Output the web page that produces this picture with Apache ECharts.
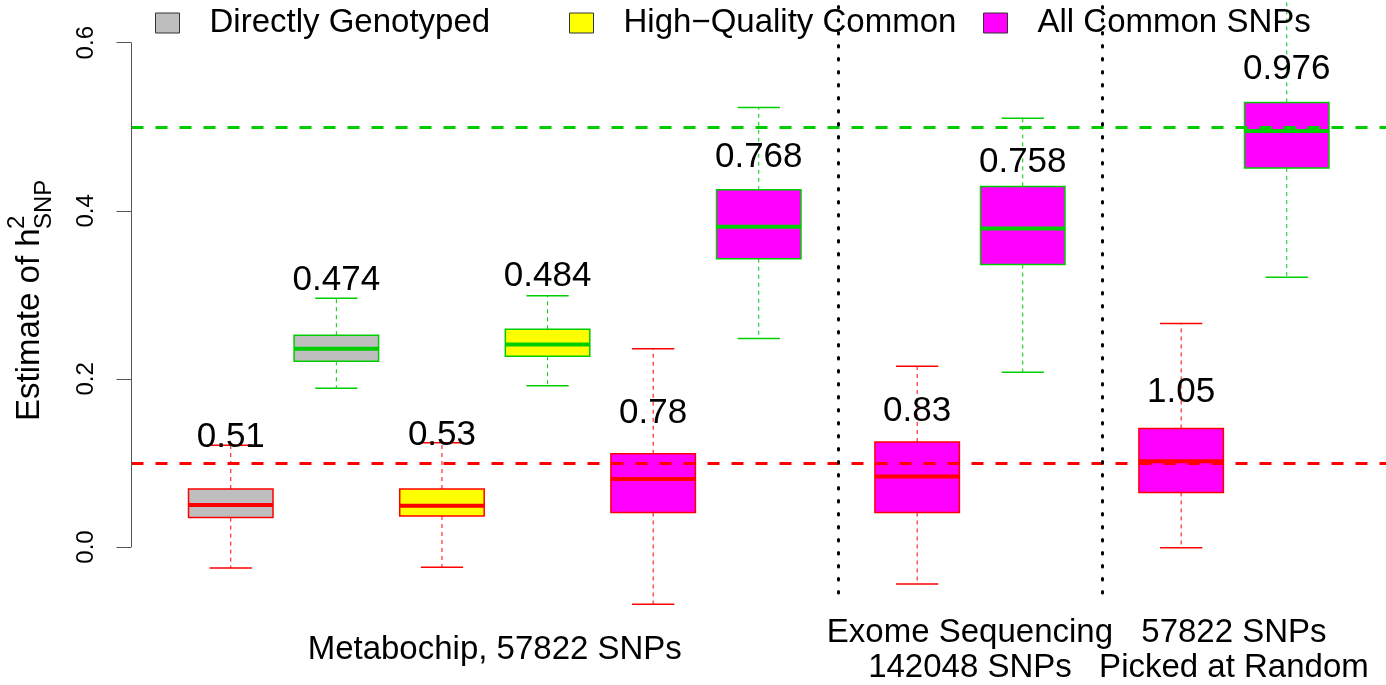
<!DOCTYPE html>
<html><head><meta charset="utf-8">
<script src="https://cdn.jsdelivr.net/npm/echarts@6/dist/echarts.min.js"></script>
<style>html,body{margin:0;padding:0;background:#fff}#c{width:1386px;height:685px}</style>
</head><body><div id="c"></div>
<script>
// ---------------- DATA ----------------
const groupNames = ['Directly Genotyped', 'High\u2212Quality Common', 'All Common SNPs'];
const boxPositions = [1, 2, 3, 4, 5, 6, 7.5, 8.5, 10, 11];
const boxGroup = [0, 0, 1, 1, 2, 2, 2, 2, 2, 2];
const whiskerLow = [-0.025, 0.189, -0.024, 0.192, -0.068, 0.248, -0.044, 0.208, -0.001, 0.321];
const q1 = [0.035, 0.221, 0.037, 0.227, 0.041, 0.343, 0.041, 0.336, 0.065, 0.451];
const median = [0.050, 0.236, 0.049, 0.241, 0.081, 0.381, 0.084, 0.379, 0.102, 0.495];
const q3 = [0.069, 0.252, 0.069, 0.259, 0.111, 0.425, 0.125, 0.429, 0.141, 0.529];
const whiskerHigh = [0.121, 0.296, 0.124, 0.299, 0.236, 0.523, 0.215, 0.510, 0.266, 0.660];
const boxLabels = ['0.51', '0.474', '0.53', '0.484', '0.78', '0.768', '0.83', '0.758', '1.05', '0.976'];
const boxLabelY = [0.131, 0.317, 0.133, 0.322, 0.159, 0.464, 0.162, 0.458, 0.184, 0.568];
const refGreenY = 0.5;
const refRedY = 0.1;
const dividerX = [6.75, 9.25];
const dividerYRange = [-0.0547, 0.6508];
const yTicks = [0, 0.2, 0.4, 0.6];
const sectionX = [3.5, 8, 10.5];
const sectionLabels = ['Metabochip, 57822 SNPs', 'Exome Sequencing\n142048 SNPs', '57822 SNPs\nPicked at Random'];

// ---------------- STYLE ----------------
const FONT = '"Liberation Sans", Arial, Helvetica, sans-serif';
const RED = '#FF0000', GREEN = '#00CD00';
const fillColors = ['#BEBEBE', '#FFFF00', '#FF00FF'];
const outlineColors = [RED, GREEN, RED, GREEN, RED, GREEN, RED, GREEN, RED, GREEN];
const legendLeft = [155, 569, 983];
const X_MIN = 0.06, X_MAX = 11.94;
const Y_MIN = -0.0547, Y_MAX = 0.6508;
const SECTION_OFFSET = 57;

function renderBox(params, api) {
  const x = api.value(0);
  const lo = api.coord([x, api.value(1)]);
  const b1 = api.coord([x, api.value(2)]);
  const md = api.coord([x, api.value(3)]);
  const b3 = api.coord([x, api.value(4)]);
  const hi = api.coord([x, api.value(5)]);
  const oc = outlineColors[api.value(6)];
  const hw = api.size([0.4, 0])[0];
  const cw = api.size([0.2, 0])[0];
  const cx = lo[0];
  const fill = api.visual('color');
  return {
    type: 'group',
    children: [
      {type: 'line', shape: {x1: cx, y1: b3[1], x2: cx, y2: hi[1]}, style: {stroke: oc, lineWidth: 1, lineDash: [4, 4]}},
      {type: 'line', shape: {x1: cx, y1: b1[1], x2: cx, y2: lo[1]}, style: {stroke: oc, lineWidth: 1, lineDash: [4, 4]}},
      {type: 'line', shape: {x1: cx - cw, y1: hi[1], x2: cx + cw, y2: hi[1]}, style: {stroke: oc, lineWidth: 1.5}},
      {type: 'line', shape: {x1: cx - cw, y1: lo[1], x2: cx + cw, y2: lo[1]}, style: {stroke: oc, lineWidth: 1.5}},
      {type: 'rect', shape: {x: cx - hw, y: b3[1], width: 2 * hw, height: b1[1] - b3[1]}, style: {fill: fill, stroke: oc, lineWidth: 1.5}},
      {type: 'line', shape: {x1: cx - hw, y1: md[1], x2: cx + hw, y2: md[1]}, style: {stroke: oc, lineWidth: 4}}
    ]
  };
}

function renderLabel(params, api) {
  const p = api.coord([api.value(0), api.value(1)]);
  return {
    type: 'text', x: p[0], y: p[1], z2: 10,
    style: {text: boxLabels[api.value(2)], fontSize: 35, fontFamily: FONT, fill: '#000', align: 'center', verticalAlign: 'middle'}
  };
}

function renderSection(params, api) {
  const p = api.coord([api.value(0), Y_MIN]);
  return {
    type: 'text', x: p[0], y: p[1] + SECTION_OFFSET,
    style: {text: sectionLabels[api.value(1)], fontSize: 33, lineHeight: 35, fontFamily: FONT, fill: '#000', align: 'center', verticalAlign: 'middle'}
  };
}

const boxSeries = groupNames.map((name, g) => ({
  type: 'custom', name: name, renderItem: renderBox, clip: false, silent: true, z: 2,
  itemStyle: {color: fillColors[g]},
  encode: {x: 0, y: [1, 2, 3, 4, 5]},
  data: boxPositions.map((p, i) => [p, whiskerLow[i], q1[i], median[i], q3[i], whiskerHigh[i], i]).filter((d, i) => boxGroup[i] === g)
}));

const option = {
  animation: false,
  backgroundColor: '#fff',
  grid: {left: 131.5, right: 0, top: 0, bottom: 92, containLabel: false},
  xAxis: {
    type: 'value', min: X_MIN, max: X_MAX,
    axisLine: {show: false}, axisTick: {show: false}, splitLine: {show: false}, axisLabel: {show: false}
  },
  yAxis: {
    type: 'value', min: Y_MIN, max: Y_MAX,
    axisLine: {show: false}, splitLine: {show: false},
    axisTick: {show: true, customValues: yTicks, length: 15, lineStyle: {color: '#555', width: 1}},
    axisLabel: {customValues: yTicks, rotate: 90, margin: 33, fontSize: 24, lineHeight: 24, fontFamily: FONT, color: '#000', formatter: v => v.toFixed(1)}
  },
  legend: groupNames.map((n, i) => ({
    data: [n], left: legendLeft[i], top: 5, padding: 0, itemGap: 0,
    icon: 'rect', itemWidth: 24, itemHeight: 20, selectedMode: false,
    itemStyle: {borderColor: '#333', borderWidth: 1},
    textStyle: {fontSize: 33, fontFamily: FONT, color: '#000', lineHeight: 36, padding: [0, 0, 0, 25]}
  })),
  series: boxSeries.concat([
    {
      type: 'custom', name: 'labels', renderItem: renderLabel, clip: false, silent: true, z: 6,
      encode: {x: 0, y: 1},
      data: boxPositions.map((p, i) => [p, boxLabelY[i], i])
    },
    {
      type: 'custom', name: 'sections', renderItem: renderSection, clip: false, silent: true, z: 6,
      encode: {x: 0},
      data: sectionX.map((x, i) => [x, i])
    },
    {
      type: 'line', name: 'refs', data: [], silent: true, z: 5,
      markLine: {
        silent: true, symbol: ['none', 'none'], label: {show: false}, animation: false,
        emphasis: {disabled: true},
        data: [
          {yAxis: refGreenY, lineStyle: {color: GREEN, width: 3, type: [12, 12]}},
          {yAxis: refRedY, lineStyle: {color: RED, width: 3, type: [12, 12]}},
          [{coord: [dividerX[0], dividerYRange[0]]}, {coord: [dividerX[0], dividerYRange[1]], lineStyle: {color: '#000', width: 3, type: [1.5, 11.5], cap: 'round'}}],
          [{coord: [dividerX[1], dividerYRange[0]]}, {coord: [dividerX[1], dividerYRange[1]], lineStyle: {color: '#000', width: 3, type: [1.5, 11.5], cap: 'round'}}],
          [{coord: [X_MIN, yTicks[0]]}, {coord: [X_MIN, yTicks[yTicks.length - 1]], lineStyle: {color: '#555', width: 1, type: 'solid'}}]
        ]
      }
    }
  ]),
  graphic: [{
    type: 'group', x: 30, y: 421, rotation: Math.PI / 2, silent: true,
    children: [
      {type: 'text', x: 0, y: 0, style: {text: 'Estimate of h', fontSize: 33, fontFamily: FONT, fill: '#000', align: 'left', verticalAlign: 'middle'}},
      {type: 'text', x: 192, y: -12.5, style: {text: '2', fontSize: 24, fontFamily: FONT, fill: '#000', align: 'left', verticalAlign: 'middle'}},
      {type: 'text', x: 192, y: 14, style: {text: 'SNP', fontSize: 24, fontFamily: FONT, fill: '#000', align: 'left', verticalAlign: 'middle'}}
    ]
  }]
};

const chart = echarts.init(document.getElementById('c'), null, {renderer: 'canvas'});
chart.setOption(option);
</script>
</body></html>
